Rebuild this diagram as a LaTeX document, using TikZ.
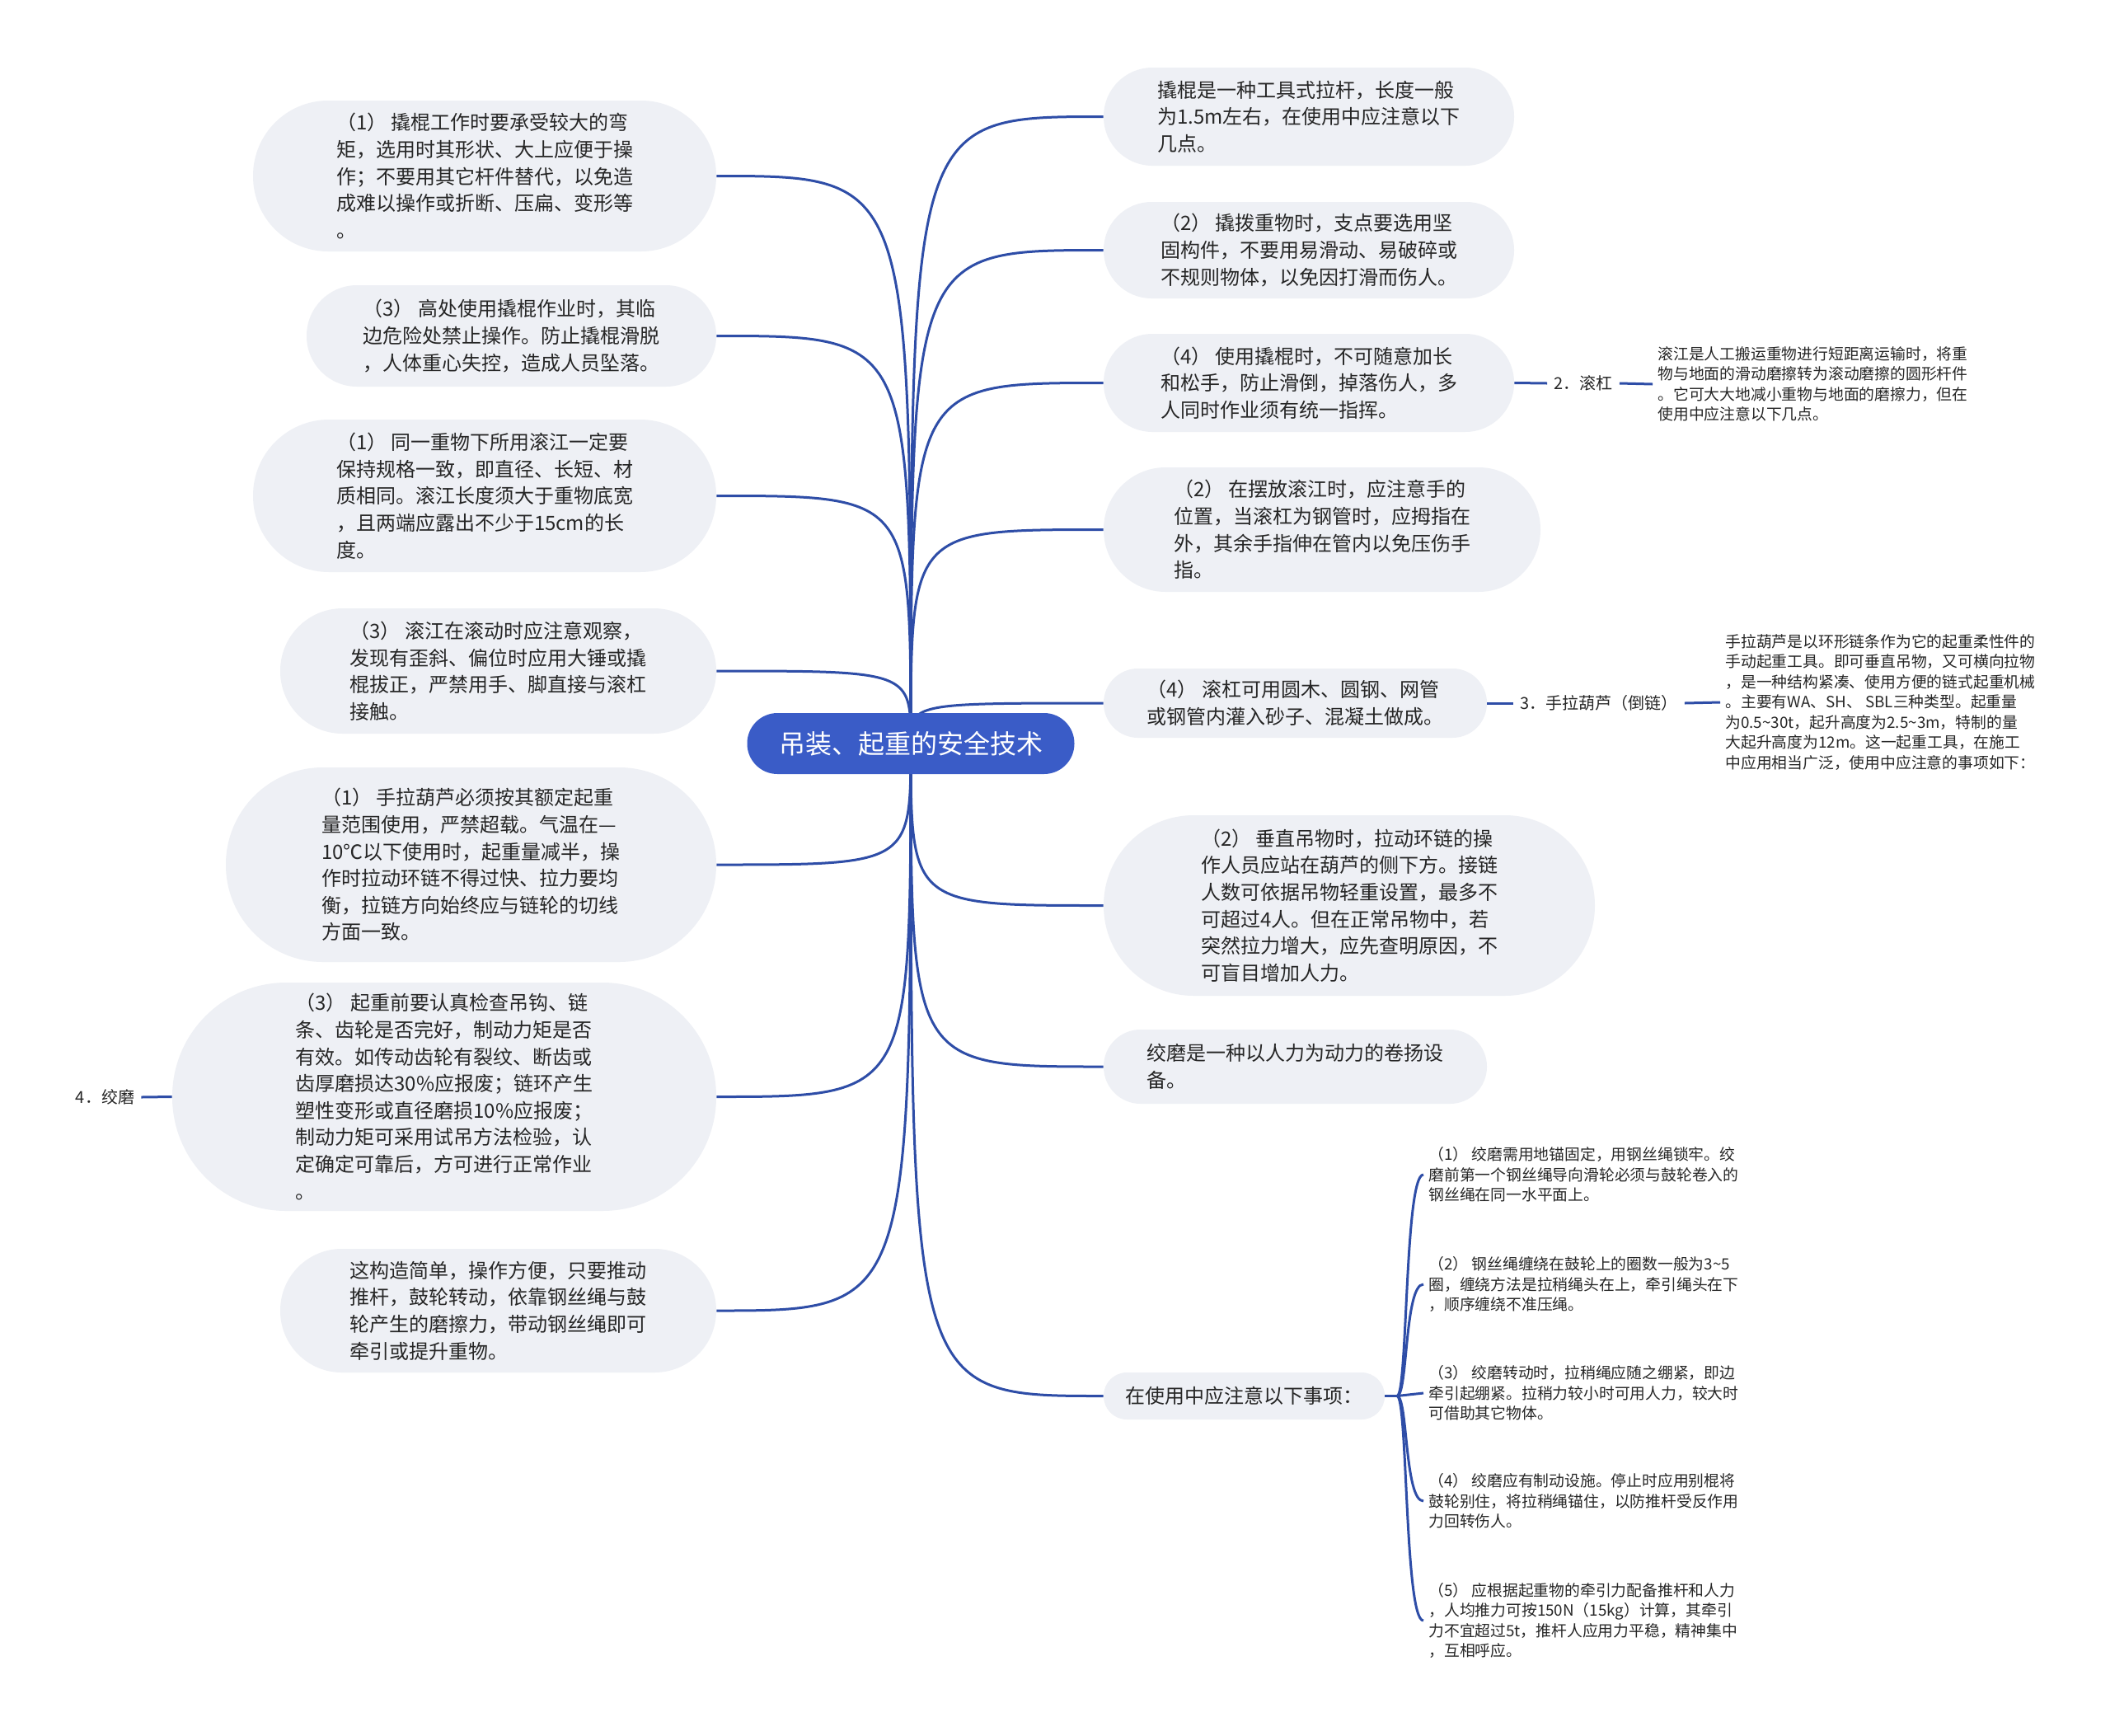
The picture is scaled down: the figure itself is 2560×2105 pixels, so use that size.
\documentclass[tikz,border=0pt]{standalone}
\usepackage{fontspec}
\setmainfont{Noto Sans CJK SC}
\definecolor{linec}{HTML}{2E4DA7}
\definecolor{centc}{HTML}{3A5CC7}
\definecolor{pillc}{HTML}{EEF0F5}
\definecolor{txtc}{HTML}{262626}
\pgfdeclarelayer{bg}
\pgfsetlayers{bg,main}
\tikzset{
 pill/.style={fill=pillc, inner sep=0pt, align=left, text=txtc, font=\fontsize{12}{16.3}\selectfont},
 small/.style={inner sep=3pt, align=left, text=txtc, font=\fontsize{9.4}{12.25}\selectfont, anchor=west},
 lab/.style={inner sep=4pt, text=txtc, font=\fontsize{10}{12}\selectfont},
 conn/.style={draw=linec, line width=1.5pt},
}
\begin{document}
\begin{tikzpicture}[x=0.5pt,y=-0.5pt]
\path[use as bounding box] (0,0) rectangle (2560,2105);

\node[fill=centc, text=white, minimum width=198.5pt, minimum height=37pt, rounded corners=18.4pt, inner sep=0pt, font=\fontsize{16}{20}\selectfont] (C) at (1105,902) {吊装、起重的安全技术};

% right pills
\node[pill, minimum width=249pt, minimum height=59.5pt, rounded corners=29.6pt] (R1) at (1588,141.5) {撬棍是一种工具式拉杆，长度一般\\为1.5m左右，在使用中应注意以下\\几点。};
\node[pill, minimum width=249pt, minimum height=58.5pt, rounded corners=29.1pt] (R2) at (1588,303.5) {（2） 撬拨重物时，支点要选用坚\\固构件，不要用易滑动、易破碎或\\不规则物体，以免因打滑而伤人。};
\node[pill, minimum width=249pt, minimum height=59.5pt, rounded corners=29.6pt] (R3) at (1588,464.5) {（4） 使用撬棍时，不可随意加长\\和松手，防止滑倒，掉落伤人，多\\人同时作业须有统一指挥。};
\node[pill, minimum width=265pt, minimum height=75.5pt, rounded corners=37.6pt] (R4) at (1604,642.5) {（2） 在摆放滚江时，应注意手的\\位置，当滚杠为钢管时，应拇指在\\外，其余手指伸在管内以免压伤手\\指。};
\node[pill, minimum width=232.5pt, minimum height=42pt, rounded corners=20.9pt] (R5) at (1571.5,853) {（4） 滚杠可用圆木、圆钢、网管\\或钢管内灌入砂子、混凝土做成。};
\node[pill, minimum width=298pt, minimum height=109.5pt, rounded corners=54.6pt] (R6) at (1637,1098.5) {（2） 垂直吊物时，拉动环链的操\\作人员应站在葫芦的侧下方。接链\\人数可依据吊物轻重设置，最多不\\可超过4人。但在正常吊物中，若\\突然拉力增大，应先查明原因，不\\可盲目增加人力。};
\node[pill, minimum width=232.5pt, minimum height=45pt, rounded corners=22.4pt] (R7) at (1571.5,1294) {绞磨是一种以人力为动力的卷扬设\\备。};
\node[pill, minimum width=170.5pt, minimum height=28.5pt, rounded corners=14.1pt] (R8) at (1509.5,1693.5) {在使用中应注意以下事项：};

% left pills
\node[pill, minimum width=281pt, minimum height=91.5pt, rounded corners=45.6pt] (L1) at (588,213.5) {（1） 撬棍工作时要承受较大的弯\\矩，选用时其形状、大上应便于操\\作；不要用其它杆件替代，以免造\\成难以操作或折断、压扁、变形等\\。};
\node[pill, minimum width=248.5pt, minimum height=61.5pt, rounded corners=30.6pt] (L2) at (620.5,407.5) {（3） 高处使用撬棍作业时，其临\\边危险处禁止操作。防止撬棍滑脱\\，人体重心失控，造成人员坠落。};
\node[pill, minimum width=281pt, minimum height=92.5pt, rounded corners=46.1pt] (L3) at (588,601.5) {（1） 同一重物下所用滚江一定要\\保持规格一致，即直径、长短、材\\质相同。滚江长度须大于重物底宽\\，且两端应露出不少于15cm的长\\度。};
\node[pill, minimum width=264.5pt, minimum height=76pt, rounded corners=37.9pt] (L4) at (604.5,814) {（3） 滚江在滚动时应注意观察，\\发现有歪斜、偏位时应用大锤或撬\\棍拔正，严禁用手、脚直接与滚杠\\接触。};
\node[pill, minimum width=297.5pt, minimum height=118pt, rounded corners=58.9pt] (L5) at (571.5,1049) {（1） 手拉葫芦必须按其额定起重\\量范围使用，严禁超载。气温在—\\10℃以下使用时，起重量减半，操\\作时拉动环链不得过快、拉力要均\\衡，拉链方向始终应与链轮的切线\\方面一致。};
\node[pill, minimum width=330pt, minimum height=138.5pt, rounded corners=69.1pt] (L6) at (539,1330.5) {（3） 起重前要认真检查吊钩、链\\条、齿轮是否完好，制动力矩是否\\有效。如传动齿轮有裂纹、断齿或\\齿厚磨损达30\%应报废；链环产生\\塑性变形或直径磨损10\%应报废；\\制动力矩可采用试吊方法检验，认\\定确定可靠后，方可进行正常作业\\。};
\node[pill, minimum width=264.5pt, minimum height=75pt, rounded corners=37.4pt] (L7) at (604.5,1590) {这构造简单，操作方便，只要推动\\推杆，鼓轮转动，依靠钢丝绳与鼓\\轮产生的磨擦力，带动钢丝绳即可\\牵引或提升重物。};

% labels and small texts
\node[lab] (lab2) at (1921,465) {2．滚杠};
\node[small] (txt2) at (2005,466) {滚江是人工搬运重物进行短距离运输时，将重\\物与地面的滑动磨擦转为滚动磨擦的圆形杆件\\。它可大大地减小重物与地面的磨擦力，但在\\使用中应注意以下几点。};
\node[lab] (lab3) at (1940,853) {3．手拉葫芦（倒链）};
\node[small] (txt3) at (2087,852) {手拉葫芦是以环形链条作为它的起重柔性件的\\手动起重工具。即可垂直吊物，又可横向拉物\\，是一种结构紧凑、使用方便的链式起重机械\\。主要有WA、SH、 SBL三种类型。起重量\\为0.5\textasciitilde30t，起升高度为2.5\textasciitilde3m，特制的量\\大起升高度为12m。这一起重工具，在施工\\中应用相当广泛，使用中应注意的事项如下：};
\node[lab] (lab4) at (127.5,1331) {4．绞磨};

\node[small] (I1) at (1727,1425) {（1） 绞磨需用地锚固定，用钢丝绳锁牢。绞\\磨前第一个钢丝绳导向滑轮必须与鼓轮卷入的\\钢丝绳在同一水平面上。};
\node[small] (I2) at (1727,1558) {（2） 钢丝绳缠绕在鼓轮上的圈数一般为3\textasciitilde5\\圈，缠绕方法是拉稍绳头在上，牵引绳头在下\\，顺序缠绕不准压绳。};
\node[small] (I3) at (1727,1690) {（3） 绞磨转动时，拉稍绳应随之绷紧，即边\\牵引起绷紧。拉稍力较小时可用人力，较大时\\可借助其它物体。};
\node[small] (I4) at (1727,1821) {（4） 绞磨应有制动设施。停止时应用别棍将\\鼓轮别住，将拉稍绳锚住，以防推杆受反作用\\力回转伤人。};
\node[small] (I5) at (1727,1966) {（5） 应根据起重物的牵引力配备推杆和人力\\，人均推力可按150N（15kg）计算，其牵引\\力不宜超过5t，推杆人应用力平稳，精神集中\\，互相呼应。};

\coordinate (J) at (1695,1693.5);

\begin{pgfonlayer}{bg}
\fill[white] (0,0) rectangle (2560,2105);
\draw[conn] (C.center) .. controls (1105,141.5) .. (R1.west);
\draw[conn] (C.center) .. controls (1105,303.5) .. (R2.west);
\draw[conn] (C.center) .. controls (1105,464.5) .. (R3.west);
\draw[conn] (C.center) .. controls (1105,642.5) .. (R4.west);
\draw[conn] (C.center) .. controls (1105,853) .. (R5.west);
\draw[conn] (C.center) .. controls (1105,1098.5) .. (R6.west);
\draw[conn] (C.center) .. controls (1105,1294) .. (R7.west);
\draw[conn] (C.center) .. controls (1105,1693.5) .. (R8.west);
\draw[conn] (C.center) .. controls (1105,213.5) .. (L1.east);
\draw[conn] (C.center) .. controls (1105,407.5) .. (L2.east);
\draw[conn] (C.center) .. controls (1105,601.5) .. (L3.east);
\draw[conn] (C.center) .. controls (1105,814) .. (L4.east);
\draw[conn] (C.center) .. controls (1105,1049) .. (L5.east);
\draw[conn] (C.center) .. controls (1105,1330.5) .. (L6.east);
\draw[conn] (C.center) .. controls (1105,1590) .. (L7.east);
\end{pgfonlayer}

\draw[conn] (R3.east) -- (lab2.west);
\draw[conn] (lab2.east) -- (txt2.west);
\draw[conn] (R5.east) -- (lab3.west);
\draw[conn] (lab3.east) -- (txt3.west);
\draw[conn] (lab4.east) -- (L6.west);
\draw[conn] (R8.east) -- (J);
\draw[conn] (J) .. controls (1708,1693.5) and (1704,1425) .. (I1.west);
\draw[conn] (J) .. controls (1708,1693.5) and (1704,1558) .. (I2.west);
\draw[conn] (J) -- (I3.west);
\draw[conn] (J) .. controls (1708,1693.5) and (1704,1821) .. (I4.west);
\draw[conn] (J) .. controls (1708,1693.5) and (1704,1966) .. (I5.west);
\end{tikzpicture}
\end{document}
